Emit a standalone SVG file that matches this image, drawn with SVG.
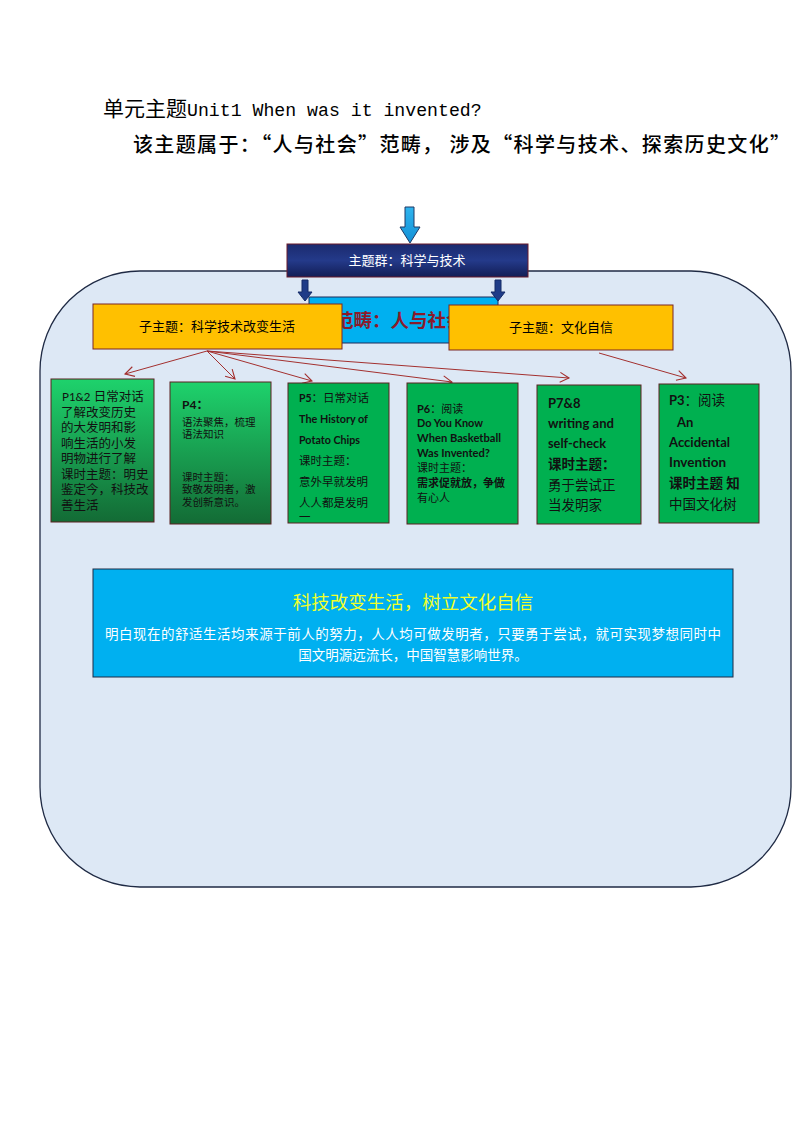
<svg xmlns="http://www.w3.org/2000/svg" width="794" height="1123" viewBox="0 0 794 1123">
<defs>
<linearGradient id="navyG" x1="0" y1="0" x2="0" y2="1"><stop offset="0" stop-color="#1b2a6e"/><stop offset="0.5" stop-color="#243a8a"/><stop offset="1" stop-color="#121d55"/></linearGradient>
<linearGradient id="greenG" x1="0" y1="0" x2="0" y2="1"><stop offset="0" stop-color="#1ed26c"/><stop offset="1" stop-color="#136b35"/></linearGradient>
<linearGradient id="arrowG" x1="0" y1="0" x2="0" y2="1"><stop offset="0" stop-color="#2fb4ee"/><stop offset="1" stop-color="#1390d6"/></linearGradient>
<marker id="vh" markerWidth="12" markerHeight="12" refX="10" refY="6" orient="auto" markerUnits="userSpaceOnUse"><path d="M1,1 L10,6 L1,11" fill="none" stroke="#a3302f" stroke-width="1.1"/></marker>
</defs>
<style>
.cjk{font-family:"Noto Sans CJK SC",sans-serif}
.hd{font-family:"Noto Sans CJK SC",sans-serif;fill:#000}
.mono{font-family:"Liberation Mono","Noto Sans CJK SC",monospace}
.orange{fill:#ffc000;stroke:#7a2626;stroke-width:1}
.green{fill:#00b050;stroke:#5a2020;stroke-width:1}
.greenG{fill:url(#greenG);stroke:#5a2020;stroke-width:1}
.lbl{font-family:"Noto Sans CJK SC",sans-serif;font-size:13px;fill:#000}
.t{font-family:Lato,"Noto Sans CJK SC",sans-serif;fill:#111}
.b{font-weight:bold}
.conn{stroke:#a3302f;stroke-width:1;fill:none;marker-end:url(#vh)}
.navyArrow{fill:#1f3c88;stroke:#142a66;stroke-width:1}
</style>
<rect width="794" height="1123" fill="#ffffff"/>

<g id="header">
<text x="103" y="116" class="hd" font-size="21"><tspan>单元主题</tspan><tspan class="mono" font-size="18.2">Unit1 When was it invented?</tspan></text>
<text x="133" y="152" class="hd" font-size="20" font-weight="500" textLength="657" lengthAdjust="spacing">该主题属于：“人与社会”范畴， 涉及“科学与技术、探索历史文化”</text>
</g>

<g id="container">
<rect x="40" y="271" width="751" height="616" rx="100" ry="100" fill="#dde8f5" stroke="#1f2a44" stroke-width="1.3"/>
</g>

<g id="category">
<rect x="309" y="297" width="189" height="46" fill="#00b0f0" stroke="#1f2a5a" stroke-width="1"/>
<text x="335" y="327" class="cjk" font-size="18.5" font-weight="bold" fill="#8b1a2b">范畴：人与社会</text>
</g>

<g id="connectors">
<polygon class="navyArrow" points="302,280 308,280 308,292 312,292 305,301 298,292 302,292"/>
<polygon class="navyArrow" points="495,280 501,280 501,292 505,292 498,301 491,292 495,292"/>
<polygon points="405,207 414,207 414,227 420,227 410,243 400,227 405,227" fill="url(#arrowG)" stroke="#1f3864" stroke-width="1"/>
<line class="conn" x1="207" y1="351" x2="125" y2="374"/>
<line class="conn" x1="207" y1="351" x2="235" y2="379"/>
<line class="conn" x1="207" y1="351" x2="312" y2="381"/>
<line class="conn" x1="207" y1="351" x2="452" y2="382"/>
<line class="conn" x1="207" y1="351" x2="569" y2="378"/>
<line class="conn" x1="599" y1="353" x2="686" y2="378"/>
</g>

<g id="theme-group">
<rect x="287" y="244" width="241" height="33" fill="url(#navyG)" stroke="#6b1a2a" stroke-width="1"/>
<text x="407" y="265" class="cjk" font-size="13" fill="#ffffff" text-anchor="middle">主题群：科学与技术</text>
</g>

<g id="sub-left">
<rect class="orange" x="93" y="304" width="249" height="45"/>
<text x="217" y="331" class="lbl" text-anchor="middle">子主题：科学技术改变生活</text>
</g>

<g id="sub-right">
<rect class="orange" x="449" y="305" width="224" height="45"/>
<text x="561" y="332" class="lbl" text-anchor="middle">子主题：文化自信</text>
</g>

<g id="p12">
<rect class="greenG" x="51" y="379" width="103" height="143"/>
<g class="t" font-size="12.5">
<text x="62" y="401"><tspan font-size="11.5">P1&amp;2</tspan> 日常对话</text>
<text x="61" y="417">了解改变历史</text>
<text x="61" y="432">的大发明和影</text>
<text x="61" y="448">响生活的小发</text>
<text x="61" y="463">明物进行了解</text>
<text x="61" y="479">课时主题：明史</text>
<text x="61" y="494">鉴定今，科技改</text>
<text x="61" y="510">善生活</text>
</g>
</g>

<g id="p4">
<rect class="greenG" x="170" y="382" width="101" height="142"/>
<g class="t" font-size="10.5">
<text x="182" y="409" class="b" font-size="12">P4：</text>
<text x="182" y="426">语法聚焦，梳理</text>
<text x="182" y="438">语法知识</text>
<text x="182" y="481">课时主题：</text>
<text x="182" y="493">致敬发明者，激</text>
<text x="182" y="506">发创新意识。</text>
</g>
</g>

<g id="p5">
<rect class="green" x="288" y="383" width="101" height="140"/>
<g class="t" font-size="11.5">
<text x="299" y="402"><tspan class="b" font-size="10.5">P5</tspan>：日常对话</text>
<text x="299" y="423" class="b" font-size="10.5" textLength="69" lengthAdjust="spacingAndGlyphs">The History of</text>
<text x="299" y="444" class="b" font-size="10.5" textLength="61" lengthAdjust="spacingAndGlyphs">Potato Chips</text>
<text x="299" y="465">课时主题：</text>
<text x="299" y="486">意外早就发明</text>
<text x="299" y="507">人人都是发明</text>
<text x="299" y="521">一</text>
</g>
</g>

<g id="p6">
<rect class="green" x="407" y="383" width="111" height="141"/>
<g class="t" font-size="11">
<text x="417" y="413"><tspan class="b">P6</tspan>：阅读</text>
<text x="417" y="427" class="b" textLength="66" lengthAdjust="spacingAndGlyphs">Do You Know</text>
<text x="417" y="442" class="b" textLength="84" lengthAdjust="spacingAndGlyphs">When Basketball</text>
<text x="417" y="457" class="b" textLength="73" lengthAdjust="spacingAndGlyphs">Was Invented?</text>
<text x="417" y="472">课时主题：</text>
<text x="417" y="487" font-weight="bold">需求促就放，争做</text>
<text x="417" y="502">有心人</text>
</g>
</g>

<g id="p78">
<rect class="green" x="537" y="385" width="104" height="139"/>
<g class="t" font-size="13.5">
<text x="548" y="408" class="b" font-size="13">P7&amp;8</text>
<text x="548" y="428" class="b" font-size="13" textLength="66" lengthAdjust="spacingAndGlyphs">writing and</text>
<text x="548" y="448" class="b" font-size="13" textLength="58" lengthAdjust="spacingAndGlyphs">self-check</text>
<text x="548" y="469" font-weight="bold">课时主题：</text>
<text x="548" y="490">勇于尝试正</text>
<text x="548" y="510">当发明家</text>
</g>
</g>

<g id="p3">
<rect class="green" x="659" y="384" width="100" height="139"/>
<g class="t" font-size="13.5">
<text x="669" y="405"><tspan class="b" font-size="13">P3</tspan>：阅读</text>
<text x="677" y="427" class="b" font-size="13">An</text>
<text x="669" y="447" class="b" font-size="13" textLength="61" lengthAdjust="spacingAndGlyphs">Accidental</text>
<text x="669" y="467" class="b" font-size="13" textLength="57" lengthAdjust="spacingAndGlyphs">Invention</text>
<text x="669" y="488" font-weight="bold">课时主题 知</text>
<text x="669" y="509">中国文化树</text>
</g>
</g>

<g id="summary">
<rect x="93" y="569" width="640" height="108" fill="#00b0f0" stroke="#1f2a44" stroke-width="1"/>
<text x="413" y="609" class="cjk" font-size="18.5" fill="#f2ff2a" text-anchor="middle">科技改变生活，树立文化自信</text>
<text x="413" y="639" class="cjk" font-size="13.5" fill="#ffffff" text-anchor="middle" textLength="616" lengthAdjust="spacing">明白现在的舒适生活均来源于前人的努力，人人均可做发明者，只要勇于尝试，就可实现梦想同时中</text>
<text x="413" y="660" class="cjk" font-size="13.5" fill="#ffffff" text-anchor="middle">国文明源远流长，中国智慧影响世界。</text>
</g>
</svg>
